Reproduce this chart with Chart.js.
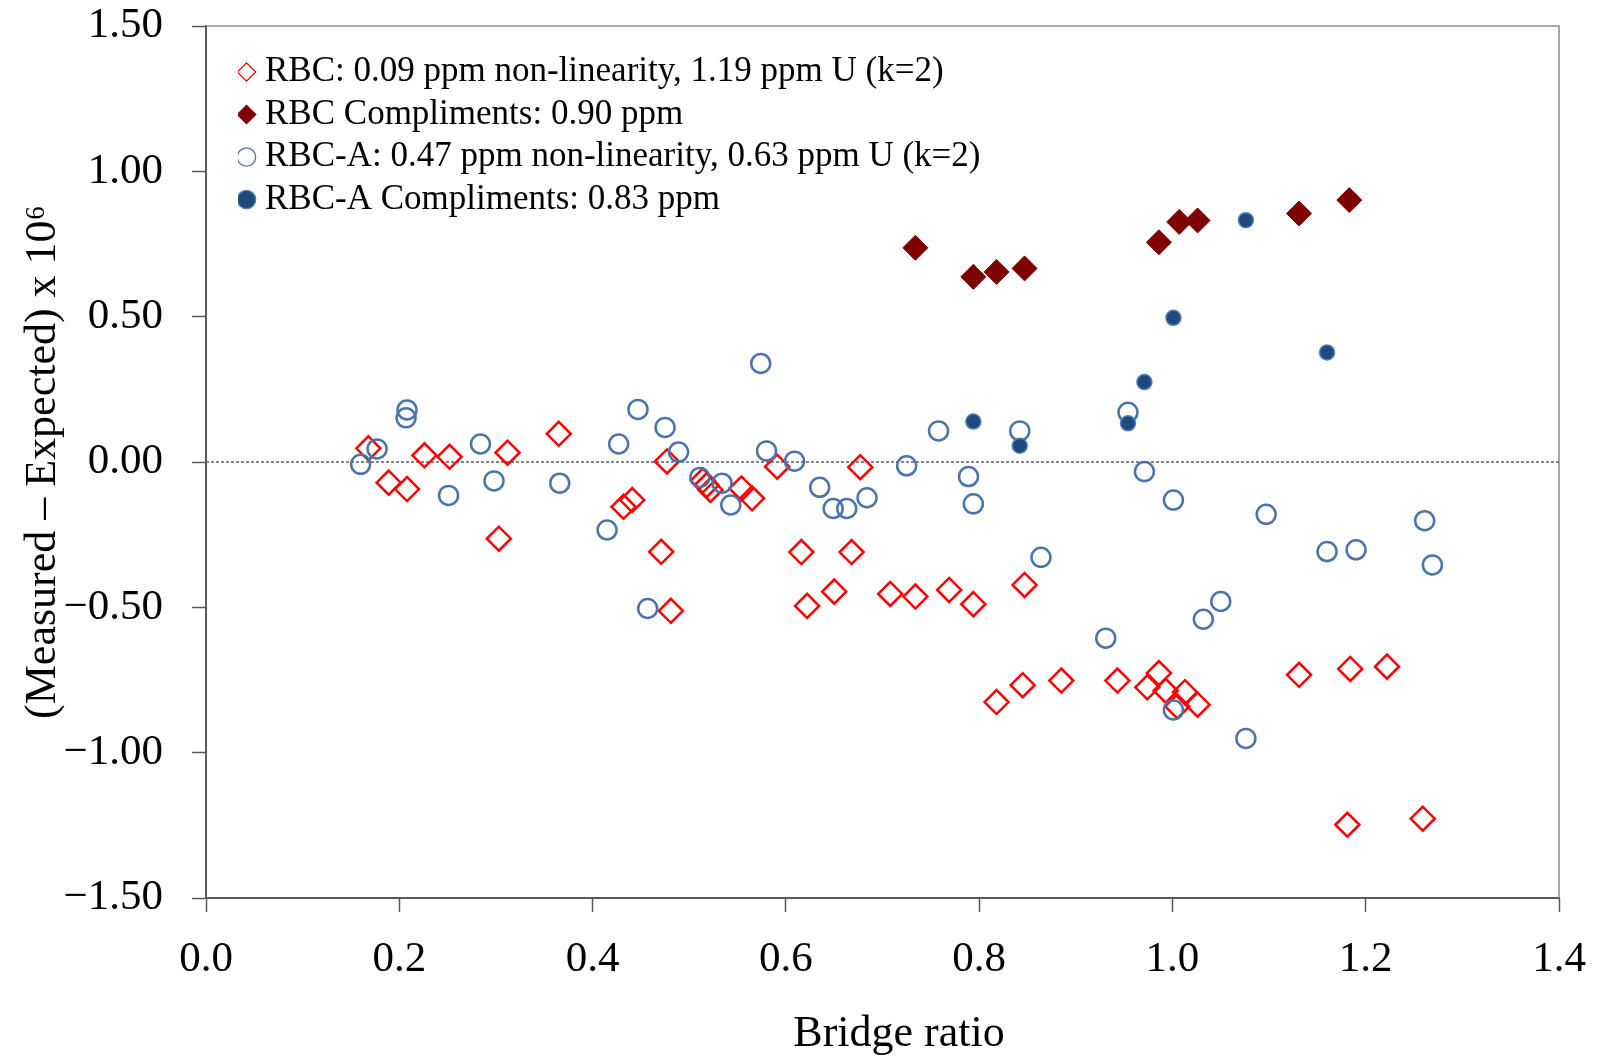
<!DOCTYPE html>
<html>
<head>
<meta charset="utf-8">
<script src="https://cdn.jsdelivr.net/npm/chart.js@4.4.1/dist/chart.umd.min.js"></script>
<style>
 body{margin:0;background:#fff;}
 #wrap{width:1597px;height:1058px;position:relative;}
</style>
</head>
<body>
<div id="wrap"><canvas id="chart"></canvas></div>
<script>
// RBC, open diamonds
const rbcX=[0.168,0.189,0.208,0.226,0.252,0.303,0.312,0.365,0.432,0.441,0.471,0.477,0.481,0.514,0.518,0.522,0.554,0.565,0.591,0.616,0.622,0.650,0.668,0.677,0.708,0.734,0.769,0.794,0.818,0.845,0.847,0.885,0.943,0.974,0.986,0.993,1.005,1.013,1.026,1.131,1.184,1.222,1.181,1.259];
const rbcY=[0.047,-0.071,-0.093,0.023,0.018,-0.264,0.032,0.097,-0.154,-0.131,-0.309,0.002,-0.512,-0.064,-0.080,-0.096,-0.091,-0.125,-0.016,-0.310,-0.495,-0.446,-0.310,-0.018,-0.454,-0.463,-0.440,-0.489,-0.826,-0.768,-0.423,-0.752,-0.752,-0.775,-0.726,-0.787,-0.841,-0.792,-0.835,-0.732,-0.712,-0.704,-1.248,-1.227];

// RBC compliments, filled diamonds
const rbcCompX=[0.734,0.794,0.818,0.847,0.986,1.007,1.026,1.131,1.183];
const rbcCompY=[0.737,0.637,0.654,0.666,0.756,0.826,0.831,0.855,0.901];

// RBC-A, open circles
const rbcaX=[0.160,0.177,0.208,0.207,0.251,0.284,0.298,0.366,0.415,0.427,0.447,0.457,0.475,0.489,0.511,0.534,0.543,0.574,0.580,0.609,0.635,0.649,0.663,0.684,0.725,0.758,0.789,0.794,0.842,0.864,0.931,0.954,0.971,1.001,1.001,1.032,1.050,1.076,1.097,1.160,1.190,1.261,1.269];
const rbcaY=[-0.008,0.045,0.179,0.152,-0.115,0.062,-0.065,-0.073,-0.234,0.062,0.181,-0.504,0.119,0.034,-0.053,-0.073,-0.148,0.339,0.038,0.003,-0.087,-0.160,-0.160,-0.123,-0.013,0.107,-0.050,-0.144,0.107,-0.328,-0.606,0.171,-0.033,-0.131,-0.853,-0.541,-0.480,-0.951,-0.180,-0.308,-0.302,-0.202,-0.354];

// RBC-A compliments, filled circles
const rbcaCompX=[0.794,0.842,0.954,0.971,1.001,1.076,1.160];
const rbcaCompY=[0.139,0.056,0.133,0.275,0.496,0.832,0.377];

const seriesNames=[
 "RBC: 0.09 ppm non-linearity, 1.19 ppm U (k=2)",
 "RBC Compliments: 0.90 ppm",
 "RBC-A: 0.47 ppm non-linearity, 0.63 ppm U (k=2)",
 "RBC-A Compliments: 0.83 ppm"
];
const xTicks=[0,0.2,0.4,0.6,0.8,1.0,1.2,1.4];
const yTicks=[-1.5,-1.0,-0.5,0,0.5,1.0,1.5];

const serif="'Liberation Serif','Times New Roman',serif";
const pts=(xs,ys)=>xs.map((x,i)=>({x:x,y:ys[i]}));

// grey frame on the top and right of the plot
const framePlugin={
 id:"frame",
 beforeDatasetsDraw(chart){
  const a=chart.chartArea, ctx=chart.ctx;
  ctx.save();
  ctx.strokeStyle="#8c8c8c";
  ctx.lineWidth=1.5;
  ctx.beginPath();
  ctx.moveTo(a.left,a.top);
  ctx.lineTo(a.right,a.top);
  ctx.lineTo(a.right,a.bottom);
  ctx.stroke();
  ctx.restore();
 }
};

// move the legend a little into the plot
const legendShift={
 id:"legendShift",
 afterLayout(chart){
  chart.legend.left+=32;
  chart.legend.top+=47;
 }
};

const baseLabels=Chart.defaults.plugins.legend.labels.generateLabels;

new Chart(document.getElementById("chart"),{
 type:"scatter",
 data:{
  datasets:[
   {label:seriesNames[0],data:pts(rbcX,rbcY),order:4,pointStyle:"rectRot",pointRadius:12,pointBorderWidth:2.5,
    pointBorderColor:"#ff0000",pointBackgroundColor:"rgba(0,0,0,0)",borderColor:"#ff0000",backgroundColor:"rgba(0,0,0,0)"},
   {label:seriesNames[1],data:pts(rbcCompX,rbcCompY),order:3,pointStyle:"rectRot",pointRadius:12.5,pointBorderWidth:1,
    pointBorderColor:"#7f0000",pointBackgroundColor:"#7f0000",borderColor:"#7f0000",backgroundColor:"#7f0000"},
   {label:seriesNames[2],data:pts(rbcaX,rbcaY),order:2,pointStyle:"circle",pointRadius:9.5,pointBorderWidth:2.5,
    pointBorderColor:"#4a74ab",pointBackgroundColor:"rgba(0,0,0,0)",borderColor:"#4a74ab",backgroundColor:"rgba(0,0,0,0)"},
   {label:seriesNames[3],data:pts(rbcaCompX,rbcaCompY),order:1,pointStyle:"circle",pointRadius:7.5,pointBorderWidth:1.5,
    pointBorderColor:"#4f81bd",pointBackgroundColor:"#1f497d",borderColor:"#4f81bd",backgroundColor:"#1f497d"},
   {label:"zero",type:"line",data:[{x:xTicks[0],y:0},{x:xTicks[xTicks.length-1],y:0}],order:5,
    borderColor:"#5f5f5f",borderWidth:1.5,borderDash:[3,2],pointRadius:0,fill:false}
  ]
 },
 options:{
  responsive:true,
  maintainAspectRatio:false,
  animation:false,
  layout:{padding:{left:0,top:26,right:38,bottom:0}},
  plugins:{
   tooltip:{enabled:false},
   legend:{
    position:"chartArea",
    align:"start",
    labels:{
     usePointStyle:true,
     boxWidth:2,
     boxHeight:13,
     padding:7.5,
     color:"#000",
     font:{family:serif,size:35},
     filter:item=>item.text!=="zero",
     sort:(a,b)=>a.datasetIndex-b.datasetIndex,
     generateLabels(chart){
      return baseLabels(chart).map(l=>{l.lineWidth=1.3;return l;});
     }
    }
   }
  },
  scales:{
   x:{
    type:"linear",
    min:0,max:1.4,
    afterFit(s){s.height=160;s.paddingLeft=0;s.paddingRight=0;},
    afterBuildTicks(s){s.ticks=xTicks.map(v=>({value:v}));},
    ticks:{color:"#000",font:{family:serif,size:43},padding:22,maxRotation:0,
     callback:v=>Number(v).toFixed(1)},
    grid:{display:true,drawOnChartArea:false,drawTicks:true,tickLength:14,tickColor:"#595959",tickWidth:1.5},
    border:{display:true,color:"#595959",width:2},
    title:{display:true,text:"   Bridge ratio",color:"#000",font:{family:serif,size:44,lineHeight:1},padding:{top:0,bottom:2}}
   },
   y:{
    type:"linear",
    min:-1.5,max:1.5,
    afterFit(s){s.width=206;s.paddingTop=0;s.paddingBottom=0;},
    afterBuildTicks(s){s.ticks=yTicks.map(v=>({value:v}));},
    ticks:{color:"#000",font:{family:serif,size:43},padding:29,
     callback:v=>(v<0?"\u2212":"")+Math.abs(v).toFixed(2)},
    grid:{display:true,drawOnChartArea:false,drawTicks:true,tickLength:14,tickColor:"#595959",tickWidth:1.5},
    border:{display:true,color:"#595959",width:2},
    title:{display:true,text:"(Measured \u2013 Expected) x 10\u2076",color:"#000",font:{family:serif,size:44,lineHeight:1},padding:{top:21,bottom:0}}
   }
  }
 },
 plugins:[framePlugin,legendShift]
});
</script>
</body>
</html>
